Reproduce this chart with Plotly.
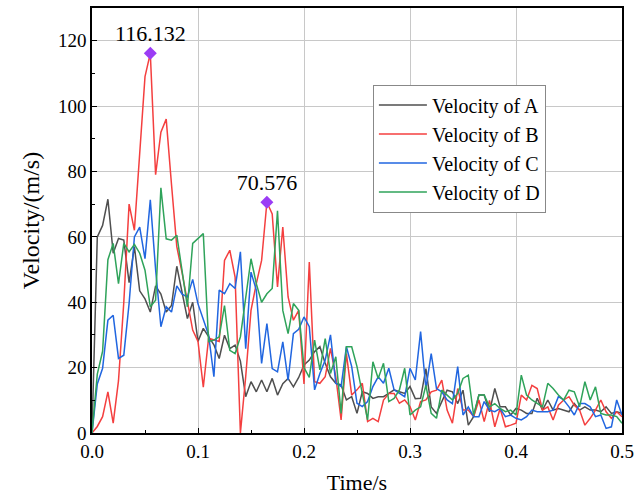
import plotly.graph_objects as go

time = [round(i * 0.005, 3) for i in range(101)]

vel_a = [0, 60, 63.5, 71.5, 55, 59.5, 59, 46, 57, 43.5,
         41, 37, 45, 42.5, 37, 39, 51, 43, 35, 40,
         28, 32, 29.4, 27, 22.8, 29.9, 25.8, 26.9, 22, 11.1,
         15.7, 12.6, 16.2, 12.6, 16.7, 11.6, 15.1, 16.7, 14.1, 17,
         20.8, 22.3, 24.9, 26.4, 21.3, 17.2, 15.2, 14.7, 10.1, 11.1,
         6, 12.6, 12.1, 10.6, 11.1, 11.1, 12.1, 13.2, 12.6, 12.1,
         14.2, 10.5, 10.6, 19.7, 8, 6, 9.6, 13.1, 12.6, 9,
         13.1, 2.4, 5, 11.6, 11.6, 6.5, 13.6, 8, 8, 5.5,
         7.5, 7, 6, 6, 10.6, 7, 10.1, 7, 7.5, 7,
         6.5, 9, 7, 8, 7, 7, 6.5, 8, 6, 6.5, 6]

vel_b = [0, 2, 5, 12.6, 3, 16, 40, 70, 62, 86,
         109, 116.132, 79, 92, 96, 76, 57, 49, 40, 31.5,
         28, 14, 29, 28.4, 28, 52.8, 55.9, 47.7, 0, 17.2,
         37.5, 45.7, 52.8, 70.576, 67, 44.7, 63, 41.6, 34.5, 37.5,
         15, 52.3, 15.7, 15.2, 17.2, 25.9, 17.2, 4, 24.3, 11.6,
         13.2, 15.2, 3.5, 4.5, 3.5, 10.1, 12.1, 12.1, 9.1, 10.1,
         8.1, 4, 9.6, 10.1, 12.6, 13.1, 16.2, 7, 3, 13.6,
         7, 7, 5, 10.1, 3.5, 10, 1.9, 7.5, 1.9, 2.4,
         3, 11.6, 10.1, 14.6, 13.6, 7, 8, 4, 8.5, 10.1,
         11.1, 8.5, 7, 2.4, 4.5, 7, 10.1, 6.5, 4.5, 6.5, 5]

vel_c = [0, 15, 19.8, 34.5, 36, 22.8, 23.8, 39.6, 60, 63,
         53.3, 71.3, 50, 32.5, 38.6, 37, 45, 42.5, 41.6, 47,
         39.5, 35, 30, 17.2, 43.7, 42.6, 45.7, 44.2, 55.4, 25.8,
         49.2, 43.7, 21.3, 33.5, 19.7, 18.7, 27.9, 16.2, 30.4, 31.7,
         35.5, 32.5, 13.2, 18.2, 22.3, 30, 15.2, 14.2, 26.4, 20.3,
         9.1, 8.1, 9.6, 14.2, 17.2, 15.2, 19.8, 13.2, 12.1, 11.1,
         19.8, 16.2, 31, 13.6, 24.3, 13.6, 12.6, 10.1, 9, 20.3,
         5.5, 8, 5, 5, 9.6, 7, 6.5, 7.5, 5, 5.5,
         4.5, 4, 5, 7, 6.5, 6.5, 6.5, 7, 11.1, 10.1,
         8, 5.5, 9, 9, 8, 5, 5.5, 1.4, 1.9, 10.1, 5.5]

vel_d = [0, 18, 25, 53, 58, 45.7, 58, 55.4, 57.7, 55,
         49.8, 38.6, 40.6, 75, 59.4, 59, 60.5, 48.8, 38.6, 58,
         59.4, 61, 28, 28.4, 29.4, 39, 25.3, 24.3, 29.4, 40.6,
         53.3, 45.7, 40, 42.6, 44.2, 68, 37.5, 30.4, 39.6, 37.5,
         20, 17, 28.4, 19.3, 28.9, 18.2, 23.3, 6, 26.4, 26.4,
         20.3, 12.1, 4, 21.8, 16.7, 21.3, 9.6, 10.6, 13.2, 19.8,
         5.5, 7, 8, 14.6, 6, 4.5, 13.1, 11.6, 10.1, 12.1,
         16.7, 17.7, 5.5, 11.6, 11.6, 8, 9, 7.5, 6.5, 7,
         5.5, 17.7, 11.6, 10.1, 9, 8, 15.2, 13.6, 11.6, 10.1,
         13.1, 12.6, 8, 15.7, 10.1, 14.1, 6, 5.5, 5.5, 5, 3]

peak_t = [0.055, 0.165]
peak_v = [116.132, 70.576]
peak_labels = ["116.132", "70.576"]

names = ["Velocity of A", "Velocity of B", "Velocity of C", "Velocity of D"]
colors = ["#4f4f4f", "#f43f3f", "#2166e0", "#2fa35a"]
series = [vel_a, vel_b, vel_c, vel_d]

FONT = "Liberation Serif, Times New Roman, serif"

fig = go.Figure()
for nm, col, ys in zip(names, colors, series):
    fig.add_trace(go.Scatter(x=time, y=ys, mode="lines", name=nm,
                             line=dict(color=col, width=1.5)))

fig.add_trace(go.Scatter(x=peak_t, y=peak_v, mode="markers+text",
                         text=peak_labels, textposition="top center",
                         textfont=dict(family=FONT, size=22, color="black"),
                         marker=dict(symbol="diamond", size=10, color="#9b3cf5"),
                         showlegend=False, cliponaxis=False))

axis_common = dict(showline=True, linecolor="black", linewidth=1.5, mirror=True,
                   ticks="inside", ticklen=5, tickwidth=1.2, tickcolor="black",
                   showgrid=True, gridcolor="#c8c8c8", gridwidth=1, zeroline=False,
                   automargin=False,
                   tickfont=dict(family=FONT, size=19, color="black"))

fig.update_xaxes(range=[0, 0.5], dtick=0.1, tickformat=".1f",
                 title=dict(text="Time/s", font=dict(family=FONT, size=22, color="black"), standoff=14),
                 minor=dict(dtick=0.05, ticks="inside", ticklen=3, tickcolor="black", showgrid=False),
                 **axis_common)
fig.update_yaxes(range=[0, 130], dtick=20,
                 title=dict(text="Velocity/(m/s)", font=dict(family=FONT, size=24, color="black"), standoff=12),
                 minor=dict(dtick=10, ticks="inside", ticklen=3, tickcolor="black", showgrid=False),
                 **axis_common)

fig.update_layout(width=643, height=497, paper_bgcolor="white", plot_bgcolor="white",
                  margin=dict(l=92, r=21, t=8, b=64),
                  showlegend=True,
                  legend=dict(x=0.53, y=0.82, xanchor="left", yanchor="top",
                              bgcolor="white", bordercolor="#888888", borderwidth=1,
                              font=dict(family=FONT, size=20, color="black"),
                              tracegroupgap=0, itemwidth=48))

fig.write_html("out.html")
